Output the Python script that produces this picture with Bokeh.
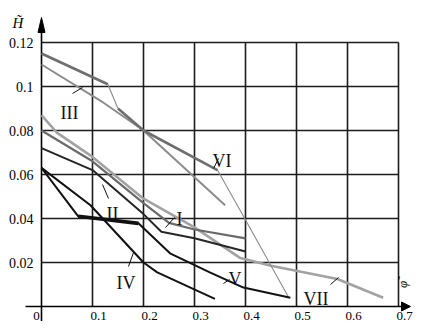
import math
from bokeh.plotting import figure
from bokeh.models import Range1d, Arrow, NormalHead
from bokeh.core.properties import value
from bokeh.embed import file_html
from bokeh.resources import INLINE

# ---- tick data ----
x_ticks = [0.1, 0.2, 0.3, 0.4, 0.5, 0.6, 0.7]
x_tick_labels = ["0.1", "0.2", "0.3", "0.4", "0.5", "0.6", "0.7"]
y_ticks = [0.02, 0.04, 0.06, 0.08, 0.10, 0.12]
y_tick_labels = ["0.02", "0.04", "0.06", "0.08", "0.1", "0.12"]

# ---- curves ----
I_x = [0.0, 0.1, 0.2, 0.25, 0.3, 0.4]
I_y = [0.080, 0.066, 0.047, 0.038, 0.035, 0.031]

II_x = [0.0, 0.1, 0.2, 0.235, 0.3, 0.4]
II_y = [0.072, 0.062, 0.042, 0.034, 0.031, 0.025]

III_x = [0.0, 0.116, 0.2, 0.36]
III_y = [0.110, 0.0935, 0.080, 0.046]

IV_x = [0.0, 0.096, 0.116, 0.2, 0.227, 0.34]
IV_y = [0.063, 0.046, 0.041, 0.020, 0.0155, 0.0035]

V_x = [0.0, 0.072, 0.19, 0.253, 0.33, 0.396, 0.488]
V_y = [0.063, 0.041, 0.0378, 0.024, 0.0155, 0.0086, 0.004]

VI_x = [0.0, 0.13, 0.15, 0.2, 0.345, 0.396, 0.485]
VI_y = [0.115, 0.101, 0.090, 0.080, 0.062, 0.041, 0.004]

VII_x = [0.0, 0.03, 0.1, 0.2, 0.3, 0.39, 0.45, 0.58, 0.67]
VII_y = [0.087, 0.079, 0.068, 0.049, 0.036, 0.022, 0.0185, 0.0125, 0.004]

X_MAX = 0.7
Y_MAX = 0.12

# pixel geometry of the frame (data origin at pixel X0, Y0)
W, H = 413, 321
X0, XS = 41, 510
Y0, YS = 306, 2200


def px(x):
    return (x - X0) / XS


def py(y):
    return (Y0 - y) / YS


p = figure(width=W, height=H,
           x_range=Range1d(px(0), px(W)),
           y_range=Range1d(py(H), py(0)),
           output_backend="svg", toolbar_location=None,
           x_axis_type=None, y_axis_type=None,
           min_border=0, outline_line_color=None,
           background_fill_color="white", border_fill_color="white")

GRID = "#1c1c1c"
# grid
p.segment(x0=x_ticks, y0=[0] * len(x_ticks), x1=x_ticks, y1=[Y_MAX] * len(x_ticks),
          line_color=GRID, line_width=1.6)
p.segment(x0=[0] * len(y_ticks), y0=y_ticks, x1=[X_MAX] * len(y_ticks), y1=y_ticks,
          line_color=GRID, line_width=1.6)

# axes with arrows
p.add_layout(Arrow(end=NormalHead(size=9, fill_color="black", line_color="black"),
                   x_start=px(25), y_start=0, x_end=px(410), y_end=0,
                   line_color="black", line_width=1.6))
y_tip = py(17)
p.line([0, 0], [py(H), y_tip - 0.003], line_color="black", line_width=1.6)
p.patch([-3.5 / XS, 0, 3.5 / XS], [y_tip - 15 / YS, y_tip, y_tip - 15 / YS],
        fill_color="black", line_color="black")

# curves
p.line(VII_x, VII_y, line_color="#a2a2a2", line_width=2.6)
p.line(III_x, III_y, line_color="#8c8c8c", line_width=2.0)
p.line(VI_x[1:3], VI_y[1:3], line_color="#8a8a8a", line_width=1.1)
p.line(VI_x[4:], VI_y[4:], line_color="#8a8a8a", line_width=1.1)
p.line(VI_x[0:2], VI_y[0:2], line_color="#6e6e6e", line_width=2.6)
p.line(VI_x[2:5], VI_y[2:5], line_color="#6e6e6e", line_width=2.6)
p.line(I_x, I_y, line_color="#6a6a6a", line_width=2.2)
p.line(II_x, II_y, line_color="#262626", line_width=2.0)
p.line(IV_x, IV_y, line_color="#111111", line_width=2.0)
p.line(V_x, V_y, line_color="#111111", line_width=2.0)
p.line(V_x[1:3], V_y[1:3], line_color="#111111", line_width=3.6)

TICK_FONT = value("Liberation Sans Narrow")
# y tick labels
p.text(x=[px(33)] * len(y_ticks), y=y_ticks, text=y_tick_labels,
       text_font=TICK_FONT, text_font_size="14px", text_align="right",
       text_baseline="middle", text_color="black")
# x tick labels
p.text(x=x_ticks, y=[py(319)] * len(x_ticks), text=x_tick_labels,
       text_font=TICK_FONT, text_font_size="13px", text_align="center",
       text_baseline="bottom", text_color="black", x_offset=6)
p.text(x=[0], y=[py(319)], text=["0"],
       text_font=TICK_FONT, text_font_size="13px", text_align="center",
       text_baseline="bottom", text_color="black", x_offset=-5)

# axis titles
p.text(x=[px(12)], y=[py(22)], text=["H\u0303"],
       text_font=value("Liberation Serif"), text_font_style="italic",
       text_font_size="15px", text_align="left", text_baseline="alphabetic")
p.text(x=[px(402)], y=[py(284)], text=["\u03c6\u0303"],
       text_font=value("Liberation Serif"), text_font_style="italic",
       text_font_size="13px", text_align="center", text_baseline="middle",
       angle=math.pi / 2)

# curve labels
lab_names = ["III", "VI", "I", "II", "IV", "V", "VII"]
lab_pos = [(60, 112), (212, 160), (176, 218), (106, 213), (116, 282), (228, 278), (303, 298)]
p.text(x=[px(a) for a, b in lab_pos], y=[py(b) for a, b in lab_pos], text=lab_names,
       text_font=value("Liberation Serif"), text_font_size="18px",
       text_align="left", text_baseline="alphabetic", text_color="#111111")

leaders = [((72, 93), (82, 87)), ((218, 158), (213, 168)), ((174, 217), (165, 227)),
           ((108, 198), (102, 184)), ((128, 266), (133, 252)), ((229, 279), (223, 283)),
           ((330, 284), (338, 277))]
p.segment(x0=[px(a[0]) for a, b in leaders], y0=[py(a[1]) for a, b in leaders],
          x1=[px(b[0]) for a, b in leaders], y1=[py(b[1]) for a, b in leaders],
          line_color="#111111", line_width=1.0)

open("out.html", "w").write(file_html(p, INLINE))
